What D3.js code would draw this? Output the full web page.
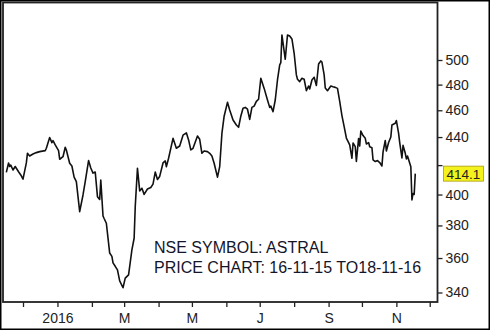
<!DOCTYPE html>
<html>
<head>
<meta charset="utf-8">
<script src="https://cdn.jsdelivr.net/npm/d3@7"></script>
<style>
  body { margin: 0; background: #fff; }
  svg { display: block; }
  text { font-family: "Liberation Sans", Arial, sans-serif; }
</style>
</head>
<body>
<script>
// daily closes (16-11-15 to 18-11-16)
var dates = [
  "2015-11-16","2015-11-18","2015-11-19","2015-11-20","2015-11-22","2015-11-24","2015-11-27","2015-11-29",
  "2015-12-01","2015-12-04","2015-12-05","2015-12-07","2015-12-10","2015-12-13","2015-12-16","2015-12-21",
  "2015-12-22","2015-12-25","2015-12-27","2015-12-28","2015-12-30","2016-01-02","2016-01-03","2016-01-06",
  "2016-01-08","2016-01-09","2016-01-12","2016-01-14","2016-01-16","2016-01-18","2016-01-21","2016-01-24",
  "2016-01-26","2016-01-29","2016-01-31","2016-02-02","2016-02-04","2016-02-06","2016-02-08","2016-02-09",
  "2016-02-11","2016-02-12","2016-02-14","2016-02-16","2016-02-17","2016-02-19","2016-02-20","2016-02-22",
  "2016-02-24","2016-02-26","2016-02-29","2016-03-02","2016-03-05","2016-03-08","2016-03-10","2016-03-11",
  "2016-03-13","2016-03-15","2016-03-17","2016-03-19","2016-03-22","2016-03-25","2016-03-27","2016-03-29",
  "2016-03-31","2016-04-02","2016-04-05","2016-04-07","2016-04-08","2016-04-10","2016-04-14","2016-04-17",
  "2016-04-20","2016-04-23","2016-04-26","2016-04-28","2016-04-30","2016-05-02","2016-05-06","2016-05-08",
  "2016-05-10","2016-05-12","2016-05-15","2016-05-17","2016-05-19","2016-05-21","2016-05-24","2016-05-26",
  "2016-05-28","2016-05-30","2016-06-02","2016-06-04","2016-06-07","2016-06-10","2016-06-12","2016-06-14",
  "2016-06-16","2016-06-18","2016-06-20","2016-06-22","2016-06-24","2016-06-26","2016-06-28","2016-06-30",
  "2016-07-02","2016-07-05","2016-07-08","2016-07-10","2016-07-11","2016-07-13","2016-07-15","2016-07-17",
  "2016-07-19","2016-07-20","2016-07-21","2016-07-24","2016-07-26","2016-07-28","2016-07-30","2016-08-01",
  "2016-08-03","2016-08-04","2016-08-06","2016-08-08","2016-08-10","2016-08-12","2016-08-14","2016-08-15",
  "2016-08-17","2016-08-19","2016-08-21","2016-08-23","2016-08-25","2016-08-26","2016-08-28","2016-08-29",
  "2016-08-31","2016-09-03","2016-09-05","2016-09-07","2016-09-09","2016-09-11","2016-09-13","2016-09-15",
  "2016-09-17","2016-09-19","2016-09-20","2016-09-22","2016-09-23","2016-09-25","2016-09-26","2016-09-28",
  "2016-09-29","2016-09-30","2016-10-02","2016-10-04","2016-10-05","2016-10-07","2016-10-08","2016-10-10",
  "2016-10-11","2016-10-13","2016-10-15","2016-10-17","2016-10-19","2016-10-20","2016-10-22","2016-10-23",
  "2016-10-25","2016-10-27","2016-10-28","2016-10-31","2016-11-01","2016-11-03","2016-11-04","2016-11-06",
  "2016-11-07","2016-11-09","2016-11-10","2016-11-11","2016-11-14","2016-11-15","2016-11-16","2016-11-17",
  "2016-11-18"
];
var closes = [
  415, 421.5, 419, 420, 416.6, 419, 415.4, 413.2,
  410.3, 421.5, 428.3, 426.4, 427.8, 428.8, 429.5, 430.2,
  431.9, 439.7, 436, 437.4, 434.3, 430.2, 424.1, 425.9,
  432.6, 430.7, 421.3, 419.4, 411.7, 408.6, 388.8, 399.7,
  408.6, 423.2, 418, 414.5, 415.2, 398.6, 396.7, 409.8,
  386, 384.4, 381.4, 369, 363, 361, 357.1, 355.1,
  353, 346.6, 342.7, 348.2, 350.1, 364.9, 372, 392,
  417.8, 402.4, 404.2, 400.1, 403.7, 404.7, 407, 415.2,
  410.1, 412.2, 421.5, 422.9, 418.9, 424.8, 439.1, 431.9,
  433.5, 441.4, 443.1, 437.9, 430.7, 431.9, 440.8, 438.4,
  428.3, 430, 429.5, 428.3, 426.4, 421.3, 411.7, 418.9,
  442.7, 455.5, 466.1, 460.2, 452.6, 448.9, 447.2, 455.5,
  461.6, 462.2, 460.8, 453.1, 462.2, 463.2, 466.8, 468.5,
  485, 477, 467.9, 462.2, 463.2, 458.9, 467.9, 483.7,
  495.9, 497.8, 521.2, 500.6, 521.2, 520.3, 517.8, 505.6,
  487.8, 484.3, 482.4, 485.1, 484.3, 475.2, 478.9, 476.5,
  483.7, 485.9, 479.3, 496.7, 499.2, 498.3, 487.8, 477.3,
  475.2, 478.9, 478.3, 477.8, 477, 466.8, 456, 447.7,
  439.3, 436, 434.3, 424.8, 435.7, 433.1, 422.5, 439,
  433.5, 444.4, 441.1, 439.1, 435, 436, 433, 432.3,
  423.6, 422.5, 423.2, 421.8, 419.4, 429.3, 437.5, 430,
  436, 440, 448.9, 450.2, 452.2, 442.7, 436, 425,
  434, 428.3, 424.3, 426.4, 418.9, 396.4, 400.7, 400,
  414.1
];

// axis ticks
var priceTicks = [340, 360, 380, 400, 420, 440, 460, 480, 500];
var monthTicks = ["2015-12-01","2016-01-01","2016-02-01","2016-03-01","2016-04-01","2016-05-01","2016-06-01",
                  "2016-07-01","2016-08-01","2016-09-01","2016-10-01","2016-11-01","2016-12-01"];
var monthLabels = ["", "2016", "", "M", "", "M", "", "J", "", "S", "", "N", ""];

var titleLines = ["NSE SYMBOL: ASTRAL", "PRICE CHART: 16-11-15 TO18-11-16"];
var lastPrice = 414.1;

function main(){
  var w = 490, h = 330;
  var parse = d3.timeParse("%Y-%m-%d");

  var data = dates.map(function(d, i){ return {date: parse(d), close: closes[i]}; });

  var svg = d3.select("body").append("svg")
    .attr("width", w)
    .attr("height", h);

  // outer frame
  svg.append("rect")
    .attr("x", 0.75).attr("y", 0.75)
    .attr("width", w - 1.5).attr("height", h - 1.5)
    .attr("fill", "#fff")
    .attr("stroke", "#000")
    .attr("stroke-width", 1.5);

  var left = 3, right = 437.5, top = 2.5, bottom = 302;

  var x = d3.scaleTime()
    .domain([parse("2015-11-13"), parse("2016-12-08")])
    .range([left, right]);

  var y = d3.scaleLog()
    .domain([340, 500])
    .range([292.5, 60]);

  svg.append("clipPath").attr("id", "plot")
    .append("rect")
    .attr("x", left).attr("y", top)
    .attr("width", right - left).attr("height", bottom - top);

  var line = d3.line()
    .x(function(d){ return x(d.date); })
    .y(function(d){ return y(d.close); });

  svg.append("path")
    .datum(data)
    .attr("clip-path", "url(#plot)")
    .attr("fill", "none")
    .attr("stroke", "#111")
    .attr("stroke-width", 1.6)
    .attr("stroke-linejoin", "round")
    .attr("d", line);

  // plot frame
  svg.append("rect")
    .attr("x", left).attr("y", top)
    .attr("width", right - left).attr("height", bottom - top)
    .attr("fill", "none")
    .attr("stroke", "#222")
    .attr("stroke-width", 1.8);

  // right price axis
  var yAxis = d3.axisRight(y)
    .tickValues(priceTicks)
    .tickSize(5)
    .tickPadding(3)
    .tickFormat(function(d){ return d === 420 ? "" : d; });

  var gy = svg.append("g")
    .attr("transform", "translate(" + right + ",0)")
    .call(yAxis);
  gy.select(".domain").remove();
  gy.selectAll("line").attr("stroke", "#222").attr("stroke-width", 1.3);
  gy.selectAll("text").attr("fill", "#222").style("font-size", "14px");

  // bottom month axis
  var xAxis = d3.axisBottom(x)
    .tickValues(monthTicks.map(parse))
    .tickSize(5)
    .tickPadding(6)
    .tickFormat(function(d, i){ return monthLabels[i]; });

  var gx = svg.append("g")
    .attr("transform", "translate(0," + bottom + ")")
    .call(xAxis);
  gx.select(".domain").remove();
  gx.selectAll("line").attr("stroke", "#222").attr("stroke-width", 1.3);
  gx.selectAll("text").attr("fill", "#222").style("font-size", "14px");

  // last price tag
  var ty = y(lastPrice);
  svg.append("rect")
    .attr("x", 443.5).attr("y", ty - 7.5)
    .attr("width", 40).attr("height", 15)
    .attr("fill", "#f4f21c")
    .attr("stroke", "#a89a10")
    .attr("stroke-width", 0.8);
  svg.append("text")
    .attr("x", 463.5).attr("y", ty + 5)
    .attr("text-anchor", "middle")
    .attr("fill", "#222")
    .style("font-size", "13.5px")
    .text(lastPrice.toFixed(1));

  // caption
  svg.selectAll("text.caption")
    .data(titleLines)
    .enter()
    .append("text")
    .attr("class", "caption")
    .attr("x", 154)
    .attr("y", function(d, i){ return 253 + i * 20; })
    .attr("fill", "#15152a")
    .style("font-size", "16px")
    .text(function(d){ return d; });
}

window.onload = function() {
  main();
};
</script>
</body>
</html>
